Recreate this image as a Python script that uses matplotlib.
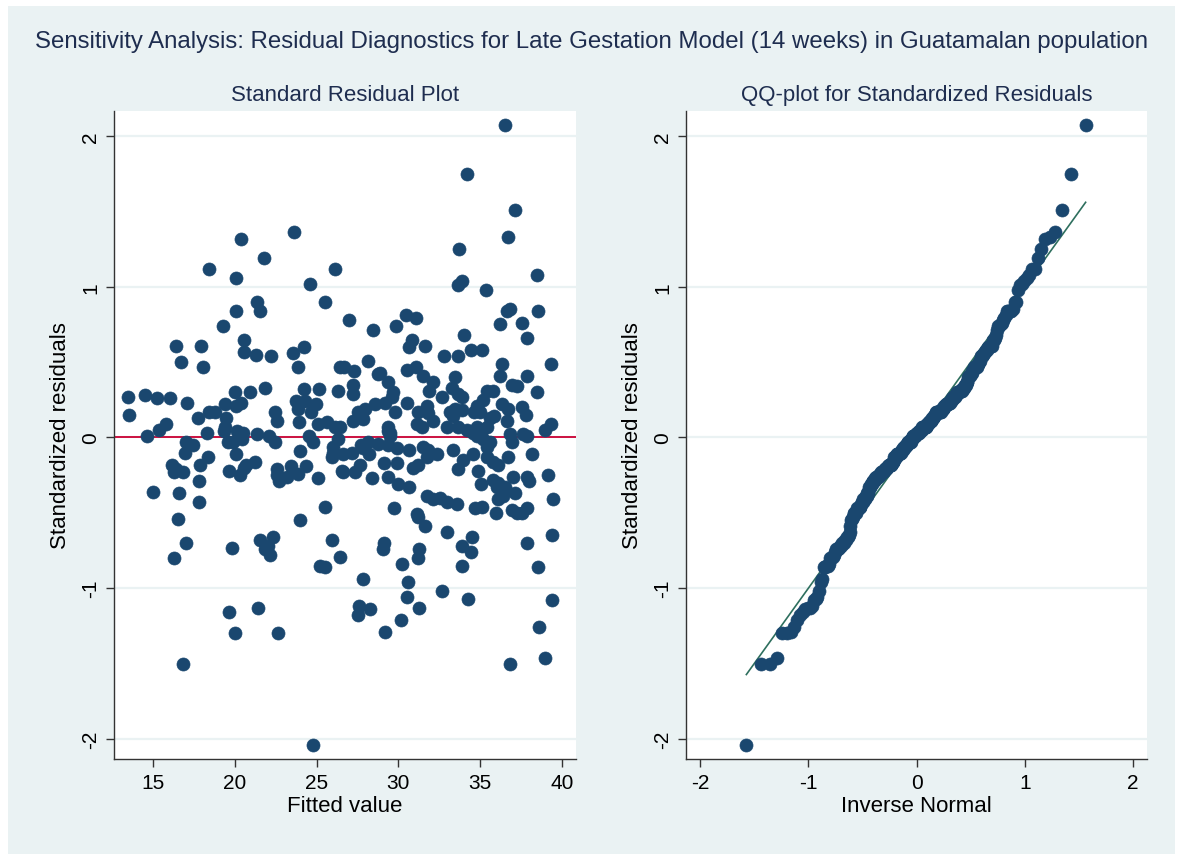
import numpy as np
import matplotlib
matplotlib.use('Agg')
import matplotlib.pyplot as plt
from matplotlib.patches import Rectangle
from statistics import NormalDist

plt.rcParams['font.family'] = ['Liberation Sans', 'DejaVu Sans']
plt.rcParams['axes.unicode_minus'] = False

title = 'Sensitivity Analysis: Residual Diagnostics for Late Gestation Model (14 weeks) in Guatamalan population'

# fitted values and standardized residuals
fitted = [
    13.47, 13.53, 14.51, 15.24, 16.04, 16.41, 16.71, 17.08, 15.37, 15.80, 14.63, 17.75,
    15.00, 16.16, 16.41, 16.83, 16.28, 17.02, 17.45, 16.96, 17.87, 17.81, 16.59, 17.81,
    16.53, 17.02, 16.28, 16.83,
    17.94, 18.06, 18.43, 18.30, 18.43, 18.79, 19.40, 19.46, 19.40, 20.08, 20.38, 19.28,
    20.08, 20.08, 20.38, 20.02, 20.93, 20.57, 20.57, 21.30, 21.36, 21.54, 21.79, 21.85,
    22.22, 22.46, 22.58, 19.34, 19.59, 19.89, 20.14, 20.44, 20.50, 21.36, 22.09, 18.36,
    20.08, 19.65, 20.32, 20.57, 20.69, 21.24, 22.46, 19.65, 21.42, 20.02, 19.83, 21.54,
    22.03, 21.85, 22.16, 22.34,
    23.62, 24.60, 25.52, 26.13, 23.56, 23.87, 24.24, 24.24, 25.15, 26.32, 26.44, 23.75,
    24.30, 23.87, 24.66, 24.97, 23.93, 25.09, 25.64, 26.13, 26.44, 24.54, 24.79, 22.58,
    22.58, 22.71, 23.20, 23.44, 23.87, 24.36, 23.99, 25.09, 25.52, 23.99, 26.01, 25.95,
    26.56, 25.95, 26.44, 25.21, 25.52, 24.79, 22.65,
    26.99, 28.46, 29.86, 30.47, 31.09, 30.84, 30.66, 26.68, 27.29, 27.23, 27.23, 28.15,
    28.88, 28.76, 29.37, 29.68, 29.62, 29.19, 30.54, 31.09, 31.51, 32.13, 31.88, 27.23,
    27.84, 27.54, 27.97, 28.58, 29.37, 29.50, 29.80, 30.54, 31.15, 31.45, 31.21, 31.76,
    26.32, 27.72, 28.15, 28.76, 29.37, 29.92, 26.01, 26.62, 27.17, 27.66, 28.21, 27.84,
    29.50, 29.37, 26.62, 27.35, 28.39, 29.37, 29.13, 29.92, 29.98, 30.66, 30.90, 31.21,
    30.66, 31.51, 31.82, 32.37, 31.76, 27.84, 27.60, 27.54, 28.27, 29.19, 29.13, 29.07,
    30.17, 30.23, 30.60, 30.54, 31.27, 29.74, 31.15, 31.21, 31.64, 31.27, 31.21,
    36.53, 34.20, 37.14, 36.71, 33.72, 38.49, 33.65, 33.90, 35.37, 31.64, 32.80, 33.65,
    34.02, 34.45, 35.12, 36.22, 36.65, 36.83, 37.57, 37.87, 38.55, 39.34, 36.35, 36.22,
    37.87, 36.96, 37.26, 38.49, 33.47, 32.68, 33.29, 33.65, 33.90, 35.43, 35.80, 35.18,
    34.82, 35.00, 34.63, 36.35, 36.71, 37.57, 37.81, 36.65, 38.98, 39.34, 33.17, 33.47,
    33.90, 31.82, 32.13, 33.35, 35.61, 35.86, 32.98, 33.65, 34.20, 34.57, 34.82, 35.12,
    35.43, 36.83, 37.63, 37.87,
    34.82, 35.18, 35.61, 35.43, 33.35, 36.96, 33.65, 33.96, 34.57, 35.43, 35.80, 36.10,
    36.71, 34.88, 35.06, 35.80, 36.10, 36.04, 36.53, 37.02, 37.87, 38.00, 38.18, 39.16,
    37.14, 31.76, 32.13, 32.55, 32.98, 33.59, 34.69, 35.12, 36.10, 36.41, 35.98, 36.96,
    37.26, 37.57, 37.87, 39.46, 32.98, 32.68, 33.90, 34.45, 34.51, 33.90, 34.27, 36.83,
    38.61, 38.98, 39.40, 38.55, 37.87, 39.40,
]
resid = [
    0.27, 0.15, 0.28, 0.26, 0.26, 0.61, 0.50, 0.23, 0.05, 0.09, 0.01, 0.13,
    -0.36, -0.18, -0.21, -0.23, -0.23, -0.03, -0.05, -0.10, -0.18, -0.29, -0.37, -0.43,
    -0.54, -0.70, -0.80, -1.50,
    0.61, 0.47, 1.12, 0.03, 0.17, 0.17, 0.22, 0.13, 0.07, 0.21, 0.23, 0.74,
    1.06, 0.84, 1.32, 0.30, 0.30, 0.65, 0.57, 0.55, 0.90, 0.84, 1.19, 0.33,
    0.54, 0.17, 0.11, 0.04, -0.03, -0.03, 0.04, -0.01, 0.03, 0.02, 0.01, -0.13,
    -0.11, -0.22, -0.25, -0.20, -0.18, -0.16, -0.03, -1.16, -1.13, -1.30, -0.73, -0.68,
    -0.72, -0.74, -0.78, -0.66,
    1.36, 1.02, 0.90, 1.12, 0.56, 0.47, 0.60, 0.32, 0.32, 0.31, 0.47, 0.24,
    0.24, 0.19, 0.17, 0.22, 0.10, 0.09, 0.10, 0.07, 0.07, 0.01, -0.03, -0.21,
    -0.25, -0.29, -0.26, -0.19, -0.24, -0.19, -0.09, -0.27, -0.46, -0.55, -0.06, -0.13,
    -0.22, -0.68, -0.79, -0.85, -0.86, -2.04, -1.30,
    0.78, 0.71, 0.74, 0.81, 0.79, 0.65, 0.60, 0.47, 0.44, 0.35, 0.29, 0.51,
    0.43, 0.42, 0.37, 0.30, 0.27, 0.23, 0.45, 0.47, 0.41, 0.37, 0.31, 0.11,
    0.12, 0.17, 0.19, 0.22, 0.07, 0.03, 0.17, 0.23, 0.09, 0.07, 0.17, 0.21,
    -0.01, -0.05, -0.03, -0.04, -0.05, -0.07, -0.10, -0.11, -0.10, -0.18, -0.11, -0.07,
    0.01, 0.04, -0.23, -0.23, -0.27, -0.26, -0.17, -0.17, -0.31, -0.33, -0.20, -0.18,
    -0.08, -0.06, -0.08, -0.11, -0.13, -0.94, -1.12, -1.18, -1.14, -1.29, -0.70, -0.74,
    -1.21, -0.84, -0.96, -1.06, -1.13, -0.47, -0.51, -0.53, -0.59, -0.74, -0.80,
    2.07, 1.75, 1.51, 1.33, 1.25, 1.08, 1.01, 1.04, 0.98, 0.61, 0.54, 0.54,
    0.68, 0.58, 0.58, 0.75, 0.84, 0.85, 0.76, 0.66, 0.84, 0.49, 0.49, 0.41,
    0.41, 0.35, 0.34, 0.30, 0.40, 0.27, 0.33, 0.29, 0.27, 0.31, 0.31, 0.25,
    0.21, 0.17, 0.17, 0.22, 0.19, 0.20, 0.15, 0.11, 0.05, 0.09, 0.17, 0.19,
    0.18, 0.16, 0.11, 0.14, 0.13, 0.14, 0.07, 0.07, 0.05, 0.03, 0.07, 0.05,
    0.07, 0.02, 0.02, 0.01,
    0.01, -0.01, -0.03, -0.06, -0.08, -0.03, -0.21, -0.15, -0.11, -0.13, -0.16, -0.18,
    -0.13, -0.22, -0.31, -0.28, -0.30, -0.33, -0.33, -0.26, -0.26, -0.29, -0.11, -0.25,
    -0.37, -0.39, -0.41, -0.40, -0.43, -0.44, -0.47, -0.46, -0.41, -0.39, -0.50, -0.48,
    -0.50, -0.50, -0.47, -0.41, -0.63, -1.02, -0.72, -0.76, -0.66, -0.85, -1.07, -1.50,
    -1.26, -1.46, -1.08, -0.86, -0.70, -0.65,
]

fitted = np.array(fitted)
resid = np.array(resid)

# qnorm: sorted residuals against normal quantiles with same mean and sd
n = len(resid)
nd = NormalDist(resid.mean(), resid.std(ddof=1))
qq_y = np.sort(resid)
qq_x = np.array([nd.inv_cdf(i / (n + 1)) for i in range(1, n + 1)])

navy = '#1A476F'
bg = '#EAF2F3'
txt = '#1E2D4F'

fig = plt.figure(figsize=(11.83, 8.62), dpi=100)
fig.patch.set_facecolor('white')
fig.patches.append(Rectangle((8 / 1183, 7 / 862), 1167 / 1183, 848 / 862,
                             transform=fig.transFigure, facecolor=bg,
                             edgecolor='none', zorder=-1))

fig.text(0.5, 1 - 42 / 862, title, ha='center', va='center', fontsize=17.3, color=txt)

ax1 = fig.add_axes([114 / 1183, 102 / 862, 462 / 1183, 648 / 862])
ax2 = fig.add_axes([686 / 1183, 102 / 862, 461 / 1183, 648 / 862])

for ax in (ax1, ax2):
    ax.set_facecolor('white')
    ax.set_ylim(-2.133, 2.166)
    ax.set_yticks([-2, -1, 0, 1, 2])
    ax.set_yticklabels(['-2', '-1', '0', '1', '2'], rotation=90, va='center')
    ax.grid(axis='y', color=bg, linewidth=1.6)
    ax.set_axisbelow(True)
    for s in ('top', 'right'):
        ax.spines[s].set_visible(False)
    for s in ('left', 'bottom'):
        ax.spines[s].set_color('#333333')
        ax.spines[s].set_linewidth(1.0)
    ax.tick_params(length=6, width=1.0, color='#333333', labelsize=15, pad=4)
    ax.set_ylabel('Standardized residuals', fontsize=16, labelpad=7)

ax1.scatter(fitted, resid, s=88, color=navy, edgecolors=navy, linewidths=0.5, zorder=3)
ax1.axhline(0, color='#CC1040', linewidth=1.4, zorder=2)
ax1.set_xlim(12.62, 40.86)
ax1.set_xticks([15, 20, 25, 30, 35, 40])
ax1.set_xlabel('Fitted value', fontsize=16, labelpad=2)
ax1.set_title('Standard Residual Plot', fontsize=16, color=txt, pad=8)

ax2.plot([qq_x.min(), qq_x.max()], [qq_x.min(), qq_x.max()], color='#2E6F5E', linewidth=1.2, zorder=2)
ax2.scatter(qq_x, qq_y, s=88, color=navy, edgecolors=navy, linewidths=0.5, zorder=3)
ax2.set_xlim(-2.13, 2.127)
ax2.set_xticks([-2, -1, 0, 1, 2])
ax2.set_xlabel('Inverse Normal', fontsize=16, labelpad=2)
ax2.set_title('QQ-plot for Standardized Residuals', fontsize=16, color=txt, pad=8)

fig.savefig('out.png', dpi=100)
